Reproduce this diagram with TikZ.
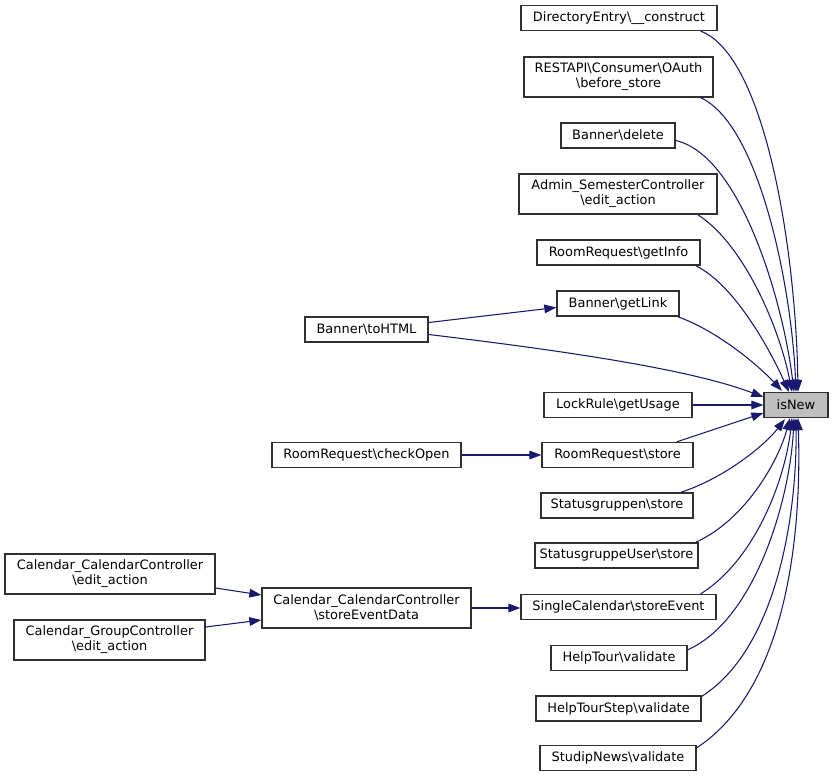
\documentclass[tikz,border=0pt]{standalone}
\usepackage{fontspec}
\setmainfont{DejaVu Sans}
\usetikzlibrary{arrows.meta,calc}
\definecolor{edgeblue}{HTML}{191970}
\definecolor{boxgray}{HTML}{303030}
\definecolor{hlgray}{HTML}{BFBFBF}
\begin{document}
\begin{tikzpicture}[x=0.75pt,y=-0.75pt,
  fn/.style={draw=boxgray, line width=1pt, fill=white, inner sep=0pt,
    minimum height=18.75pt, align=center,
    font=\fontsize{9.7pt}{11.25pt}\selectfont},
  fn2/.style={fn, minimum height=30pt},
  cl/.style={draw=edgeblue, line width=0.8pt,
    -{Triangle[length=9pt,width=6.5pt]}}]
\useasboundingbox (0,0) rectangle (833,779);
% rank 3 and target
\node[fn, minimum width=48pt, fill=hlgray] (isn) at (796,405) {isNew};
\node[fn, minimum width=147pt] (dir) at (619,18) {DirectoryEntry\textbackslash\_\_construct};
\node[fn2, minimum width=141.75pt] (rest) at (618.5,77) {RESTAPI\textbackslash Consumer\textbackslash OAuth\\\textbackslash before\_store};
\node[fn, minimum width=85.5pt] (del) at (618,135.5) {Banner\textbackslash delete};
\node[fn2, minimum width=148.5pt] (adm) at (618,194) {Admin\_SemesterController\\\textbackslash edit\_action};
\node[fn, minimum width=122.25pt] (info) at (618.5,252.5) {RoomRequest\textbackslash getInfo};
\node[fn, minimum width=91.5pt] (link) at (618,303.5) {Banner\textbackslash getLink};
\node[fn, minimum width=111pt] (use) at (618,405) {LockRule\textbackslash getUsage};
\node[fn, minimum width=113.25pt] (rrs) at (617.5,455) {RoomRequest\textbackslash store};
\node[fn, minimum width=114pt] (sg) at (617,505.5) {Statusgruppen\textbackslash store};
\node[fn, minimum width=122.25pt] (sgu) at (616.5,555.5) {StatusgruppeUser\textbackslash store};
\node[fn, minimum width=146.25pt] (sc) at (618.5,607) {SingleCalendar\textbackslash storeEvent};
\node[fn, minimum width=102pt] (ht) at (619,658) {HelpTour\textbackslash validate};
\node[fn, minimum width=123.75pt] (hts) at (618.5,708.5) {HelpTourStep\textbackslash validate};
\node[fn, minimum width=117pt] (sn) at (618,758) {StudipNews\textbackslash validate};
% rank 1
\node[fn, minimum width=92.25pt] (html) at (366.5,329.5) {Banner\textbackslash toHTML};
\node[fn, minimum width=141.75pt] (chk) at (366.5,455) {RoomRequest\textbackslash checkOpen};
\node[fn2, minimum width=156.75pt] (sed) at (366.5,608) {Calendar\_CalendarController\\\textbackslash storeEventData};
% rank 0
\node[fn2, minimum width=157.5pt] (cedit) at (110,574) {Calendar\_CalendarController\\\textbackslash edit\_action};
\node[fn2, minimum width=143.25pt] (gedit) at (109.5,640) {Calendar\_GroupController\\\textbackslash edit\_action};
% edges into isNew from above
\draw[cl] ($(dir.south east)+(-17,0)$) .. controls (765,55) and (796,250) .. ($(isn.north)+(2,0)$);
\draw[cl] ($(rest.south east)+(-13,0)$) .. controls (760,125) and (792,290) .. ($(isn.north)+(0,0)$);
\draw[cl] ($(del.east)+(0,5)$) .. controls (740,155) and (783,300) .. ($(isn.north)+(-2,0)$);
\draw[cl] ($(adm.south east)+(-20,0)$) .. controls (745,245) and (780,330) .. ($(isn.north)+(-4,0)$);
\draw[cl] ($(info.south east)+(-5,0)$) .. controls (735,285) and (770,350) .. ($(isn.north)+(-7,0)$);
\draw[cl] ($(link.south east)+(-2,0)$) .. controls (715,330) and (755,362) .. ($(isn.north)+(-14,-1)$);
\draw[cl] ($(html.east)+(0,5)$) .. controls (600,355) and (700,373) .. ($(isn.west)+(0,-8)$);
\draw[cl] (use.east) -- (isn.west);
\draw[cl] ($(rrs.north east)+(-17,0)$) -- ($(isn.west)+(0,8)$);
% edges into isNew from below
\draw[cl] ($(sg.north east)+(-13,0)$) .. controls (725,478) and (765,445) .. ($(isn.south)+(-11,1)$);
\draw[cl] ($(sgu.north east)+(-3,0)$) .. controls (745,520) and (778,462) .. ($(isn.south)+(-6,0)$);
\draw[cl] ($(sc.north east)+(-16,0)$) .. controls (755,560) and (785,480) .. ($(isn.south)+(-4,0)$);
\draw[cl] ($(ht.north east)+(0,5)$) .. controls (755,620) and (790,500) .. ($(isn.south)+(-2,0)$);
\draw[cl] ($(hts.north east)+(0,1)$) .. controls (775,650) and (797,520) .. ($(isn.south)+(0,0)$);
\draw[cl] ($(sn.north east)+(0,3)$) .. controls (785,690) and (802,540) .. ($(isn.south)+(2,0)$);
% other edges
\draw[cl] ($(html.east)+(0,-7)$) -- ($(link.west)+(0,4)$);
\draw[cl] (chk.east) -- (rrs.west);
\draw[cl] ($(cedit.east)+(0,14)$) -- ($(sed.west)+(0,-13)$);
\draw[cl] ($(gedit.east)+(0,-13)$) -- ($(sed.west)+(0,12)$);
\draw[cl] (sed.east) -- (sed.east -| sc.west);
\end{tikzpicture}
\end{document}
